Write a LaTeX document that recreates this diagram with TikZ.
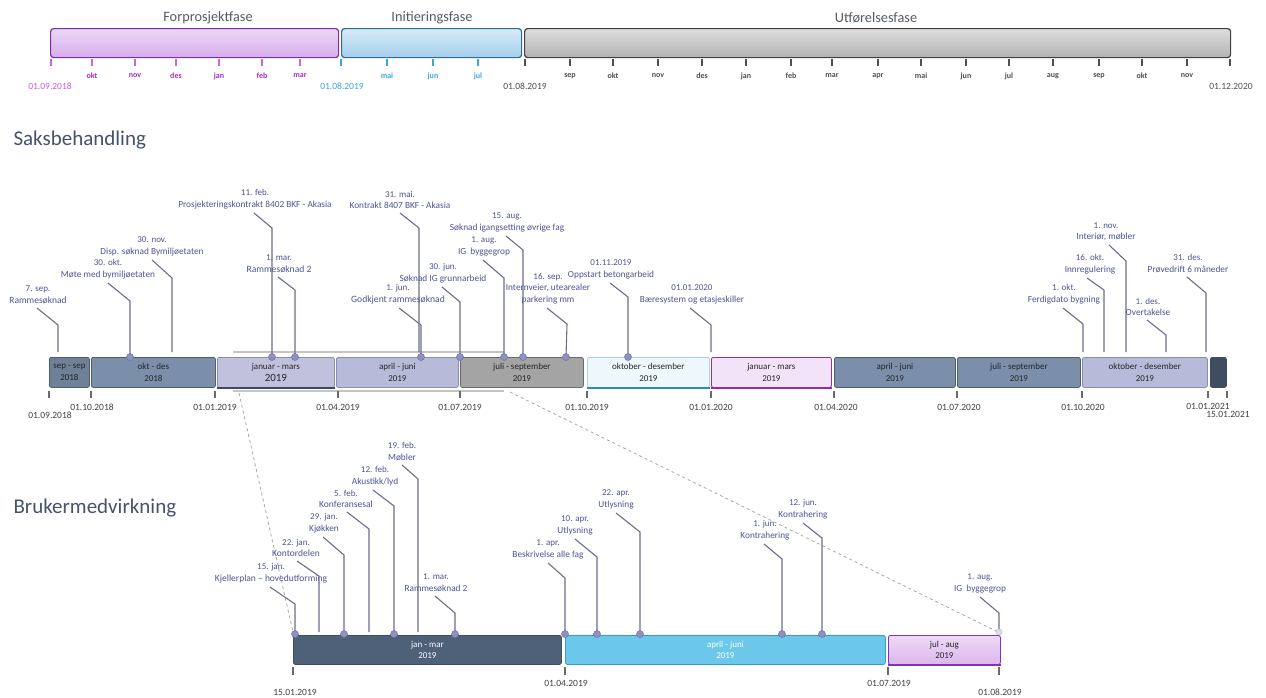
\documentclass[tikz,border=0pt]{standalone}
\usepackage{fontspec}
\setmainfont{Carlito}
\definecolor{lblc}{HTML}{4E5594}
\definecolor{leadc}{HTML}{6B6F8C}
\definecolor{dotc}{HTML}{8E91C2}
\definecolor{dotd}{HTML}{6E71A0}
\definecolor{headc}{HTML}{44546A}
\definecolor{ptitlec}{HTML}{555A66}
\definecolor{purT}{HTML}{EBD6F5}
\definecolor{purB}{HTML}{D6AEEA}
\definecolor{purD}{HTML}{7E2E9E}
\definecolor{purTxt}{HTML}{A62CC8}
\definecolor{purDate}{HTML}{C25EE0}
\definecolor{bluT}{HTML}{D6EAF7}
\definecolor{bluB}{HTML}{A6D0EC}
\definecolor{bluD}{HTML}{2E6C96}
\definecolor{bluTxt}{HTML}{3AA6DE}
\definecolor{gryT}{HTML}{DEDEDE}
\definecolor{gryB}{HTML}{B2B2B2}
\definecolor{gryD}{HTML}{404040}
\definecolor{gryTxt}{HTML}{505050}
\definecolor{slateA}{HTML}{6F8199}
\definecolor{slateB}{HTML}{7B8EAA}
\definecolor{slateD}{HTML}{4F5D72}
\definecolor{lavA}{HTML}{C0C2DD}
\definecolor{lavB}{HTML}{B7BBD9}
\definecolor{lavD}{HTML}{8A8EB0}
\definecolor{navy}{HTML}{3B4868}
\definecolor{grayBox}{HTML}{A4A4A4}
\definecolor{grayBoxD}{HTML}{6A6A6A}
\definecolor{iceA}{HTML}{EEF7FB}
\definecolor{iceD}{HTML}{2C8AC2}
\definecolor{pinkA}{HTML}{F3E3F8}
\definecolor{pinkD}{HTML}{8A2FB8}
\definecolor{darkBox}{HTML}{3F4D63}
\definecolor{cDark}{HTML}{4E6178}
\definecolor{cBlue}{HTML}{6CC8EA}
\definecolor{cBlueD}{HTML}{3A9CC4}
\definecolor{cPurT}{HTML}{EED8F6}
\definecolor{cPurB}{HTML}{DCB8EE}
\definecolor{tickc}{HTML}{6A6A6A}
\definecolor{datec}{HTML}{404040}
\definecolor{zoomc}{HTML}{C4C4C4}
\definecolor{dashc}{HTML}{A8A8A8}
\tikzset{
 phasebox/.style={rounded corners=3pt, line width=1.2pt, minimum height=29pt, inner sep=0pt, anchor=north west},
 ptitle/.style={font=\fontsize{14.3}{16}\selectfont, text=ptitlec},
 mon/.style={font=\fontsize{8}{9}\selectfont\bfseries},
 pdate/.style={font=\fontsize{9.5}{10}\selectfont},
 ptick/.style={line width=2pt},
 tbox/.style={draw, rounded corners=2pt, minimum height=30pt, inner sep=0pt, line width=0.8pt, anchor=north west, align=center, font=\fontsize{9}{11.5}\selectfont, text=black!85},
 heading/.style={font=\fontsize{21}{24}\selectfont, text=headc, anchor=west},
 lbl/.style={align=center, anchor=south, inner sep=0pt, text=lblc, font=\fontsize{9.3}{11.5}\selectfont},
 leader/.style={draw=leadc, line width=1.1pt},
 dot/.style={circle, fill=dotc, draw=dotd, line width=0.5pt, minimum size=7pt, inner sep=0pt},
 enddot/.style={circle, fill=gray!25, draw=gray!50, line width=0.5pt, minimum size=6pt, inner sep=0pt},
 nodot/.style={coordinate},
 stick/.style={draw=tickc, line width=1.6pt},
 sdate/.style={font=\fontsize{9.5}{10}\selectfont, text=datec},
 zoomline/.style={draw=zoomc, line width=1.4pt},
 zoomdash/.style={draw=dashc, line width=0.8pt, dashed}
}
\newcommand\ms[9]{%
  \coordinate (#1s) at (#4);
  \coordinate (#1e) at (#5);
  \coordinate (#1c) at (#6);
  \node[lbl,#2] (#1) at (#3) {{\fontsize{9}{11}\selectfont #7}\\#8};
  \draw[leader] (#1s) -- (#1e) -- (#1c);
  \node[#9] (#1d) at (#1c) {};
}
\begin{document}
\begin{tikzpicture}[x=1pt,y=-1pt]
\useasboundingbox (0,0) rectangle (1266,697);
\fill[white] (0,0) rectangle (1266,697);

% ---------- phase bar ----------
\node[ptitle] (tF) at (208,18) {Forprosjektfase};
\node[ptitle] (tI) at (432,18) {Initieringsfase};
\node[ptitle] (tU) at (876,18) {Utførelsesfase};
\node[phasebox, top color=purT, bottom color=purB, draw=purD, minimum width=288pt] (pF) at (50,28) {};
\node[phasebox, top color=bluT, bottom color=bluB, draw=bluD, minimum width=180pt] (pI) at (341,28) {};
\node[phasebox, top color=gryT, bottom color=gryB, draw=gryD, minimum width=706pt] (pU) at (524,28) {};
\foreach \x in {51,92,135,176,219,262,300} \draw[ptick, draw=purTxt!70] (\x,59) -- (\x,66);
\foreach \x in {341,387,433,478} \draw[ptick, draw=bluTxt] (\x,59) -- (\x,66);
\foreach \x in {525,570,613,658,702,746,791,832,878,921,966,1009,1053,1099,1142,1187,1230} \draw[ptick, draw=gryTxt] (\x,59) -- (\x,66);
\foreach \x/\m in {92/okt,135/nov,176/des,219/jan,262/feb,300/mar} \node[mon, text=purTxt] at (\x,76) {\m};
\foreach \x/\m in {387/mai,433/jun,478/jul} \node[mon, text=bluTxt] at (\x,76) {\m};
\foreach \x/\m in {570/sep,613/okt,658/nov,702/des,746/jan,791/feb,832/mar,878/apr,921/mai,966/jun,1009/jul,1053/aug,1099/sep,1142/okt,1187/nov} \node[mon, text=gryTxt] at (\x,76) {\m};
\node[pdate, text=purDate] (dF) at (50,86) {01.09.2018};
\node[pdate, text=bluTxt] (dI) at (342,86) {01.08.2019};
\node[pdate, text=gryTxt] (dU) at (525,86) {01.08.2019};
\node[pdate, text=gryTxt] (dE) at (1231,86) {01.12.2020};

% ---------- headings ----------
\node[heading] (h1) at (10,140) {Saksbehandling};
\node[heading] (h2) at (10,508) {Brukermedvirkning};

% ---------- zoom indicator ----------
\coordinate (zt1) at (233,352); \coordinate (zt2) at (504,352);
\coordinate (zb1) at (233,391); \coordinate (zb2) at (504,391);
\draw[zoomline] (zt1) -- (zt2);
\draw[zoomline] (zb1) -- (zb2);
\coordinate (zd1) at (239,393); \coordinate (zd2) at (293,632);
\coordinate (zd3) at (510,392); \coordinate (zd4) at (998,632);
\draw[zoomdash] (zd1) -- (zd2);
\draw[zoomdash] (zd3) -- (zd4);

% ---------- Saksbehandling boxes ----------
\node[tbox, fill=slateA, draw=slateD, minimum width=40pt] (B1) at (49,357) {sep - sep\\2018};
\node[tbox, fill=slateB, draw=slateD, minimum width=124pt] (B2) at (91,357) {okt - des\\2018};
\node[tbox, fill=lavA, draw=lavD, minimum width=117pt] (B3) at (217,357) {januar - mars\\{\fontsize{11}{12}\selectfont 2019}};
\node[tbox, fill=lavB, draw=lavD, minimum width=122pt] (B4) at (336,357) {april - juni\\2019};
\node[tbox, fill=grayBox, draw=grayBoxD, minimum width=123pt] (B5) at (460,357) {juli - september\\2019};
\node[tbox, fill=iceA, draw=iceD!40, minimum width=122pt] (B6) at (587,357) {oktober - desember\\2019};
\node[tbox, fill=pinkA, draw=pinkD, minimum width=120pt] (B7) at (711,357) {januar - mars\\2019};
\node[tbox, fill=slateB, draw=slateD, minimum width=121pt] (B8) at (834,357) {april - juni\\2019};
\node[tbox, fill=slateB, draw=slateD, minimum width=123pt] (B9) at (957,357) {juli - september\\2019};
\node[tbox, fill=lavB, draw=lavD, minimum width=125pt] (B10) at (1082,357) {oktober - desember\\2019};
\node[tbox, fill=darkBox, draw=darkBox, minimum width=16pt] (B11) at (1210,357) {};
\draw[line width=1.6pt, navy] (B3.south west) -- (B3.south east);
\draw[line width=1.6pt, iceD] (B6.south west) -- (B6.south east);
\draw[line width=1.6pt, pinkD] (B7.south west) -- (B7.south east);

\foreach \x in {49,91,215,338,460,587,711,834,957,1082,1208,1227} \draw[stick] (\x,391) -- (\x,398);
\node[sdate] (e1) at (50,415) {01.09.2018};
\node[sdate] (e2) at (92,407) {01.10.2018};
\node[sdate] (e3) at (215,407) {01.01.2019};
\node[sdate] (e4) at (338,407) {01.04.2019};
\node[sdate] (e5) at (460,407) {01.07.2019};
\node[sdate] (e6) at (587,407) {01.10.2019};
\node[sdate] (e7) at (711,407) {01.01.2020};
\node[sdate] (e8) at (836,407) {01.04.2020};
\node[sdate] (e9) at (959,407) {01.07.2020};
\node[sdate] (e10) at (1083,407) {01.10.2020};
\node[sdate] (e11) at (1208,406) {01.01.2021};
\node[sdate] (e12) at (1228,414) {15.01.2021};

% ---------- Saksbehandling milestones ----------
\ms{s1}{font=\fontsize{9.5}{11.5}\selectfont}{38,304}{37,308}{58,325}{58,352}{7. sep.}{Rammesøknad}{nodot}
\ms{s2}{}{108,279}{108,283}{130,301}{130,357}{30. okt.}{Møte med bymiljøetaten}{dot}
\ms{s3}{}{152,256}{152,260}{172,278}{172,352}{30. nov.}{Disp. søknad Bymiljøetaten}{nodot}
\ms{s4}{}{255,209}{254,213}{272,228}{272,357}{11. feb.}{Prosjekteringskontrakt 8402 BKF - Akasia}{dot}
\ms{s5}{font=\fontsize{9.6}{11.5}\selectfont}{279,273}{278,277}{295,290}{295,357}{1. mar.}{Rammesøknad 2}{dot}
\ms{s6}{}{400,209}{400,213}{419,228}{419,352}{31. mai.}{Kontrakt 8407 BKF - Akasia}{nodot}
\ms{s7}{font=\fontsize{9.6}{11.5}\selectfont}{398,304}{399,308}{421,325}{421,357}{1. jun.}{Godkjent rammesøknad}{dot}
\ms{s8}{}{443,283}{442,287}{460,302}{460,357}{30. jun.}{Søknad IG grunnarbeid}{dot}
\ms{s9}{}{484,256}{483,260}{504,278}{504,357}{1. aug.}{IG\ \ byggegrop}{dot}
\ms{s10}{}{507,232}{506,236}{523,250}{523,357}{15. aug.}{Søknad igangsetting øvrige fag}{dot}
\ms{s11}{}{548,304}{547,308}{567,324}{566,357}{16. sep.}{Internveier, utearealer\\parkering mm}{dot}
\ms{s12}{}{611,279}{610,283}{628,297}{628,357}{01.11.2019}{Oppstart betongarbeid}{dot}
\ms{s13}{}{692,304}{690,308}{711,325}{711,352}{01.01.2020}{Bæresystem og etasjeskiller}{nodot}
\ms{s14}{}{1064,304}{1063,308}{1083,324}{1083,352}{1. okt.}{Ferdigdato bygning}{nodot}
\ms{s15}{}{1090,274}{1087,278}{1104,290}{1104,352}{16. okt.}{Innregulering}{nodot}
\ms{s16}{}{1106,241}{1109,245}{1126,261}{1126,352}{1. nov.}{Interiør, møbler}{nodot}
\ms{s17}{}{1148,316}{1147,320}{1166,335}{1166,352}{1. des.}{Overtakelse}{nodot}
\ms{s18}{}{1188,273}{1187,277}{1206,293}{1206,352}{31. des.}{Prøvedrift 6 måneder}{nodot}

% ---------- Brukermedvirkning boxes ----------
\node[tbox, minimum height=29pt, fill=cDark, draw=cDark!80!black, text=white, minimum width=268pt] (C1) at (293,635) {jan - mar\\2019};
\node[tbox, minimum height=29pt, fill=cBlue, draw=cBlueD, text=white, minimum width=320pt] (C2) at (565,635) {april - juni\\2019};
\node[tbox, minimum height=29pt, top color=cPurT, bottom color=cPurB, draw=pinkD, minimum width=112pt] (C3) at (888,635) {jul - aug\\2019};
\draw[line width=1.6pt, pinkD] (C3.south west) -- (C3.south east);
\foreach \x in {293,565,888,999} \draw[stick] (\x,667) -- (\x,675);
\node[sdate] (f1) at (295,692) {15.01.2019};
\node[sdate] (f2) at (566,683) {01.04.2019};
\node[sdate] (f3) at (889,683) {01.07.2019};
\node[sdate] (f4) at (1000,692) {01.08.2019};

% ---------- Brukermedvirkning milestones ----------
\ms{b1}{font=\fontsize{9.5}{11.5}\selectfont}{271,583}{270,587}{295,604}{295,634}{15. jan.}{Kjellerplan – hovedutforming}{dot}
\ms{b2}{font=\fontsize{9.5}{11.5}\selectfont}{296,557}{297,561}{319,576}{319,632}{22. jan.}{Kontordelen}{nodot}
\ms{b3}{}{324,533}{323,537}{344,555}{344,634}{29. jan.}{Kjøkken}{dot}
\ms{b4}{font=\fontsize{9.5}{11.5}\selectfont}{346,508}{347,512}{369,529}{369,632}{5. feb.}{Konferansesal}{nodot}
\ms{b5}{}{375,486}{373,490}{394,506}{394,634}{12. feb.}{Akustikk/lyd}{dot}
\ms{b6}{}{402,461}{402,465}{418,479}{418,632}{19. feb.}{Møbler}{nodot}
\ms{b7}{}{436,592}{435,596}{455,613}{455,634}{1. mar.}{Rammesøknad 2}{dot}
\ms{b8}{}{548,559}{548,563}{565,578}{565,634}{1. apr.}{Beskrivelse alle fag}{dot}
\ms{b9}{}{575,535}{575,539}{597,557}{597,634}{10. apr.}{Utlysning}{dot}
\ms{b10}{}{616,509}{616,513}{640,532}{640,634}{22. apr.}{Utlysning}{dot}
\ms{b11}{}{765,540}{764,544}{782,559}{782,634}{1. jun.}{Kontrahering}{dot}
\ms{b12}{}{803,519}{803,523}{822,538}{822,634}{12. jun.}{Kontrahering}{dot}
\ms{b13}{}{980,593}{980,597}{999,613}{999,632}{1. aug.}{IG\ \ byggegrop}{enddot}
\end{tikzpicture}
\end{document}
